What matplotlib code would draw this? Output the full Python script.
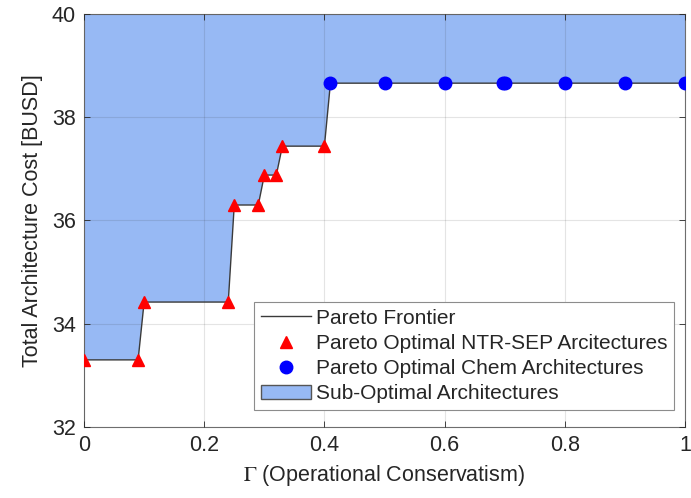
import matplotlib
matplotlib.use("Agg")
import matplotlib.pyplot as plt

# data
gamma_ntr = [0.0, 0.09, 0.10, 0.24, 0.25, 0.29, 0.30, 0.32, 0.33, 0.40]
cost_ntr = [33.3, 33.3, 34.42, 34.42, 36.3, 36.3, 36.88, 36.88, 37.44, 37.44]
gamma_chem = [0.41, 0.50, 0.60, 0.697, 0.70, 0.80, 0.90, 1.0]
cost_chem = [38.66, 38.66, 38.66, 38.66, 38.66, 38.66, 38.66, 38.66]
xticks = [0, 0.2, 0.4, 0.6, 0.8, 1]
xtick_labels = ["0", "0.2", "0.4", "0.6", "0.8", "1"]
yticks = [32, 34, 36, 38, 40]


def draw():
    plt.rcParams["font.family"] = ["Liberation Sans", "DejaVu Sans"]
    plt.rcParams["mathtext.fontset"] = "stix"
    txt = "#262626"

    gamma = gamma_ntr + gamma_chem
    cost = cost_ntr + cost_chem

    fig = plt.figure(figsize=(6.91, 4.98), dpi=100)
    ax = fig.add_axes([0.1216, 0.1426, 0.8697, 0.8293])

    ax.fill_between(gamma, cost, 40, facecolor="#97b9f4", edgecolor="none",
                    label="Sub-Optimal Architectures", zorder=1)
    ax.plot(gamma, cost, color="#3a3a3a", lw=1.0, label="Pareto Frontier", zorder=3)
    ax.plot(gamma_ntr, cost_ntr, "^", color="red", ms=8.5, ls="none",
            label="Pareto Optimal NTR-SEP Arcitectures", zorder=4)
    ax.plot(gamma_chem, cost_chem, "o", color="blue", ms=9, ls="none",
            label="Pareto Optimal Chem Architectures", zorder=4)

    ax.set_xlim(0, 1)
    ax.set_ylim(32, 40)
    ax.set_xticks(xticks)
    ax.set_xticklabels(xtick_labels)
    ax.set_yticks(yticks)
    ax.tick_params(direction="in", labelsize=15.5, colors=txt, length=4, width=0.6,
                   top=True, right=True, pad=6)
    ax.grid(True, color="#262626", alpha=0.12, lw=0.8)
    ax.set_axisbelow(False)
    for sp in ax.spines.values():
        sp.set_color("#6e6e6e")
        sp.set_linewidth(0.8)

    ax.set_xlabel(r"$\Gamma$ (Operational Conservatism)", fontsize=15.5, color=txt, labelpad=5)
    ax.set_ylabel("Total Architecture Cost [BUSD]", fontsize=15.5, color=txt, labelpad=6)

    h, l = ax.get_legend_handles_labels()
    order = [1, 2, 3, 0]
    leg = ax.legend([h[i] for i in order], [l[i] for i in order],
                    loc="lower right", bbox_to_anchor=(0.981, 0.042),
                    fontsize=15, frameon=True, fancybox=False, framealpha=1,
                    edgecolor="#8c8c8c", handlelength=2.4, handletextpad=0.25,
                    labelspacing=0.3, borderpad=0.3, borderaxespad=0)
    leg.get_frame().set_linewidth(0.8)
    for t in leg.get_texts():
        t.set_color(txt)
    leg.legend_handles[3].set_edgecolor("#555555")
    leg.set_zorder(10)

    fig.savefig("out.png", dpi=100)


def main():
    draw()


if __name__ == "__main__":
    main()
